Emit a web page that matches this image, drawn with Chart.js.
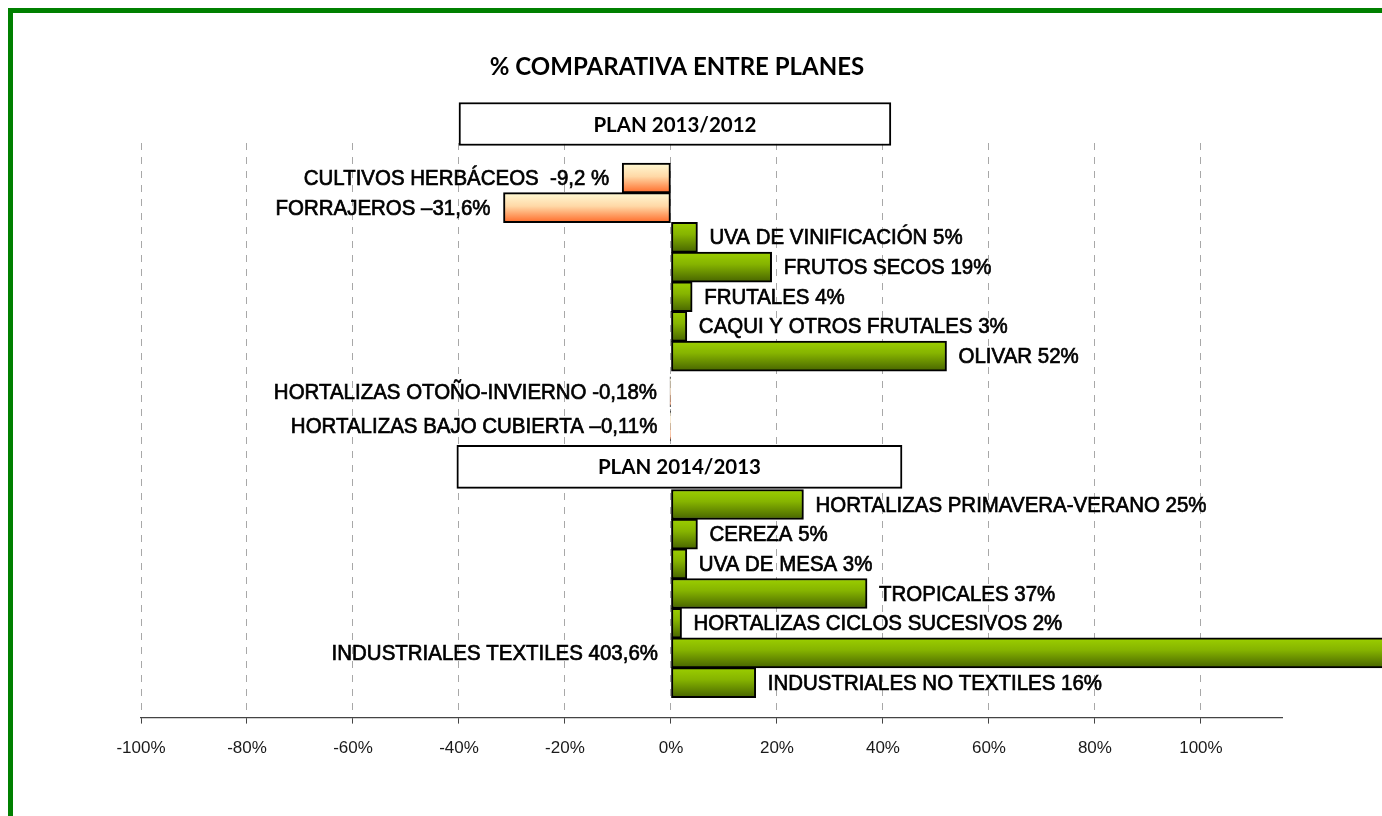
<!DOCTYPE html>
<html lang="es">
<head>
  <meta charset="UTF-8">
  <title>% Comparativa entre planes</title>
  <style>
    body { margin: 0; padding: 0; background: #fff; overflow: hidden; }
    #marco { position: absolute; left: 8px; top: 8px; width: 2000px; height: 2000px;
             border-left: 5px solid #008000; border-top: 5px solid #008000; }
    #grafico { position: absolute; left: 0; top: 0; }
  </style>
</head>
<body>
  <div id="marco"></div>
  <canvas id="grafico" width="1382" height="816"></canvas>

  <script src="https://cdn.jsdelivr.net/npm/chart.js"></script>
  <script>
    // datos
    const cultivos = [
      "CULTIVOS HERBÁCEOS", "FORRAJEROS", "UVA DE VINIFICACIÓN", "FRUTOS SECOS", "FRUTALES",
      "CAQUI Y OTROS FRUTALES", "OLIVAR", "HORTALIZAS OTOÑO-INVIERNO", "HORTALIZAS BAJO CUBIERTA",
      "HORTALIZAS PRIMAVERA-VERANO", "CEREZA", "UVA DE MESA", "TROPICALES",
      "HORTALIZAS CICLOS SUCESIVOS", "INDUSTRIALES TEXTILES", "INDUSTRIALES NO TEXTILES"
    ];
    const variacion = [-9.2, -31.6, 5, 19, 4, 3, 52, -0.18, -0.11, 25, 5, 3, 37, 2, 403.6, 16];
    const textoValor = [" -9,2 %", "–31,6%", "5%", "19%", "4%", "3%", "52%", "-0,18%", "–0,11%",
                        "25%", "5%", "3%", "37%", "2%", "403,6%", "16%"];
    const filas = [0, 1, 2, 3, 4, 5, 6, 7.2, 8.35, 11, 12, 13, 14, 15, 16, 17];

    const planes = ["PLAN 2013/2012", "PLAN 2014/2013"];
    const planDesde = [-40, -40.4];
    const planHasta = [41.5, 43.6];
    const planFila = [-1.82, 9.73];

    const ticksX = [-100, -80, -60, -40, -20, 0, 20, 40, 60, 80, 100];

    const fuenteEtiqueta = '22px "Liberation Sans", Arial, sans-serif';

    function degradado(ctx) {
      const chart = ctx.chart;
      const v = ctx.raw ? ctx.raw.x : 0;
      if (!chart.chartArea || ctx.type !== 'data') return v < 0 ? '#ff8a4a' : '#7aa800';
      const y = chart.scales.y.getPixelForValue(ctx.raw.y);
      const g = chart.ctx.createLinearGradient(0, y - 15, 0, y + 15);
      if (v < 0) {
        g.addColorStop(0, '#fffbd6');
        g.addColorStop(0.45, '#ffd8a6');
        g.addColorStop(1, '#ff6a28');
      } else {
        g.addColorStop(0, '#9ccf00');
        g.addColorStop(0.4, '#86b400');
        g.addColorStop(1, '#476400');
      }
      return g;
    }

    // textos: titulo, rotulos de los planes y etiquetas de las barras
    const textos = {
      id: 'textos',
      afterDatasetsDraw(chart) {
        const ctx = chart.ctx, xs = chart.scales.x, ys = chart.scales.y;
        ctx.save();
        ctx.fillStyle = '#000';
        ctx.strokeStyle = '#000';
        ctx.textBaseline = 'middle';

        ctx.font = 'bold 24px Lato, "Open Sans", sans-serif';
        ctx.textAlign = 'center';
        ctx.fillText('% COMPARATIVA ENTRE PLANES', 677, 67);

        ctx.font = 'bold 20.5px Lato, "Open Sans", sans-serif';
        planes.forEach((p, i) => {
          const cx = (xs.getPixelForValue(planDesde[i]) + xs.getPixelForValue(planHasta[i])) / 2;
          ctx.fillText(p, cx, ys.getPixelForValue(planFila[i]) + 1);
        });

        ctx.font = fuenteEtiqueta;
        ctx.lineWidth = 0.7;
        cultivos.forEach((c, i) => {
          const v = variacion[i];
          const y = ys.getPixelForValue(filas[i]) + 1;
          const txt = c + ' ' + textoValor[i];
          let x;
          if (v < 0 || v > xs.max) {
            ctx.textAlign = 'right';
            x = xs.getPixelForValue(Math.min(v, 0)) - 13;
          } else {
            ctx.textAlign = 'left';
            x = xs.getPixelForValue(v) + 12;
          }
          // texto algo estrechado, como en el original
          ctx.save();
          ctx.translate(x, y);
          ctx.scale(0.93, 1);
          ctx.fillText(txt, 0, 0);
          ctx.strokeText(txt, 0, 0);
          ctx.restore();
        });
        ctx.restore();
      }
    };

    new Chart(document.getElementById('grafico').getContext('2d'), {
      type: 'bar',
      data: {
        datasets: [
          {
            label: 'Variación',
            data: filas.map((f, i) => ({ x: variacion[i], y: f })),
            backgroundColor: degradado,
            borderColor: '#000',
            borderWidth: 2,
            borderSkipped: false,
            barThickness: 30,
            grouped: false,
            clip: false
          },
          {
            label: 'Planes',
            data: planes.map((p, i) => ({ x: [planDesde[i], planHasta[i]], y: planFila[i] })),
            backgroundColor: '#fff',
            borderColor: '#000',
            borderWidth: 2,
            borderSkipped: false,
            barThickness: 43,
            grouped: false,
            clip: false
          }
        ]
      },
      options: {
        responsive: false,
        animation: false,
        indexAxis: 'y',
        layout: { padding: { left: 141, right: 100, top: 143, bottom: 42 } },
        plugins: { legend: { display: false }, title: { display: false }, tooltip: { enabled: false } },
        scales: {
          x: {
            type: 'linear',
            min: -100,
            max: 115.3,
            afterBuildTicks: s => { s.ticks = ticksX.map(v => ({ value: v })); },
            ticks: {
              callback: v => v + '%',
              color: '#1a1a1a',
              font: { family: '"Liberation Sans", Arial, sans-serif', size: 17 },
              padding: 15,
              maxRotation: 0
            },
            grid: {
              color: '#a8a8a8',
              lineWidth: 1,
              tickLength: 6,
              tickColor: '#444',
              tickWidth: 1
            },
            border: { display: true, color: '#444', width: 1.2, dash: [7, 7] }
          },
          y: {
            type: 'linear',
            reverse: true,
            offset: false,
            min: -1.18,
            max: 18.18,
            display: false
          }
        }
      },
      plugins: [textos]
    });
  </script>
</body>
</html>
